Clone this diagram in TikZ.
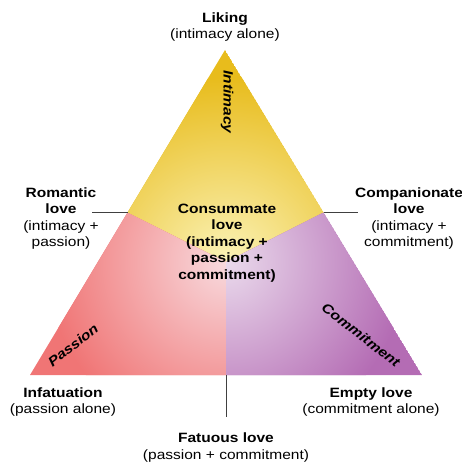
\documentclass[tikz,border=0pt]{standalone}
\usepackage{fontspec}
\setmainfont{Liberation Sans}[FakeStretch=1.15]
\definecolor{ygold}{HTML}{E8BC1C}
\definecolor{ypale}{HTML}{FBF3B8}
\definecolor{pdark}{HTML}{F07575}
\definecolor{ppale}{HTML}{F8DADE}
\definecolor{vdark}{HTML}{B46CB4}
\definecolor{vpale}{HTML}{EADAEC}
\tikzset{
  lbl/.style={align=center, inner sep=0pt, font=\fontsize{13.5}{16.3}\selectfont},
  region/.style={inner sep=0pt, font=\fontsize{13.5}{16}\selectfont\bfseries\itshape},
  tick/.style={draw=black!75, line width=0.7pt}
}
\begin{document}
\begin{tikzpicture}[x=1pt,y=-1pt]
\useasboundingbox (0,0) rectangle (462,462);
\coordinate (A) at (225,50);
\coordinate (L) at (30,375);
\coordinate (R) at (422,375);
\coordinate (ml) at (127.5,212.5);
\coordinate (mr) at (323.5,212.5);
\coordinate (mb) at (226,375);
\coordinate (C) at (226,262);
% yellow
\begin{scope}
\clip (A) -- (mr) -- (C) -- (ml) -- cycle;
\fill[ygold] (A) -- (mr) -- (C) -- (ml) -- cycle;
\shade[inner color=ypale, outer color=ygold] (C) circle (185);
\end{scope}
% pink
\begin{scope}
\clip (ml) -- (C) -- (mb) -- (L) -- cycle;
\fill[pdark] (ml) -- (C) -- (mb) -- (L) -- cycle;
\shade[inner color=ppale, outer color=pdark] (C) circle (180);
\end{scope}
% purple
\begin{scope}
\clip (mr) -- (R) -- (mb) -- (C) -- cycle;
\fill[vdark] (mr) -- (R) -- (mb) -- (C) -- cycle;
\shade[inner color=vpale, outer color=vdark] (C) circle (180);
\end{scope}
% labels
\node[lbl] (liking) at (225,27) {\textbf{Liking}\\(intimacy alone)};
\node[lbl] (romantic) at (61,218.5) {\textbf{Romantic}\\\textbf{love}\\(intimacy +\\passion)};
\node[lbl] (companion) at (409,218.5) {\textbf{Companionate}\\\textbf{love}\\(intimacy +\\commitment)};
\node[lbl, font=\fontsize{13.5}{16.5}\selectfont\bfseries] (consummate) at (227,243) {Consummate\\love\\(intimacy +\\passion +\\commitment)};
\node[lbl] (infat) at (63,402) {\textbf{Infatuation}\\(passion alone)};
\node[lbl] (empty) at (371,402) {\textbf{Empty love}\\(commitment alone)};
\node[lbl] (fatuous) at (226,447.5) {\textbf{Fatuous love}\\(passion + commitment)};
% region names
\node[region, rotate=-90] (intimacy) at (227,102) {Intimacy};
\node[region, rotate=38] (passion) at (73,345) {Passion};
\node[region, rotate=-38] (commitment) at (361,335) {Commitment};
% ticks
\coordinate (tl) at (92,212.5);
\coordinate (tr) at (358,212.5);
\coordinate (tb) at (226,417);
\draw[tick] (tl) -- (ml);
\draw[tick] (mr) -- (tr);
\draw[tick] (mb) -- (tb);
\end{tikzpicture}
\end{document}
